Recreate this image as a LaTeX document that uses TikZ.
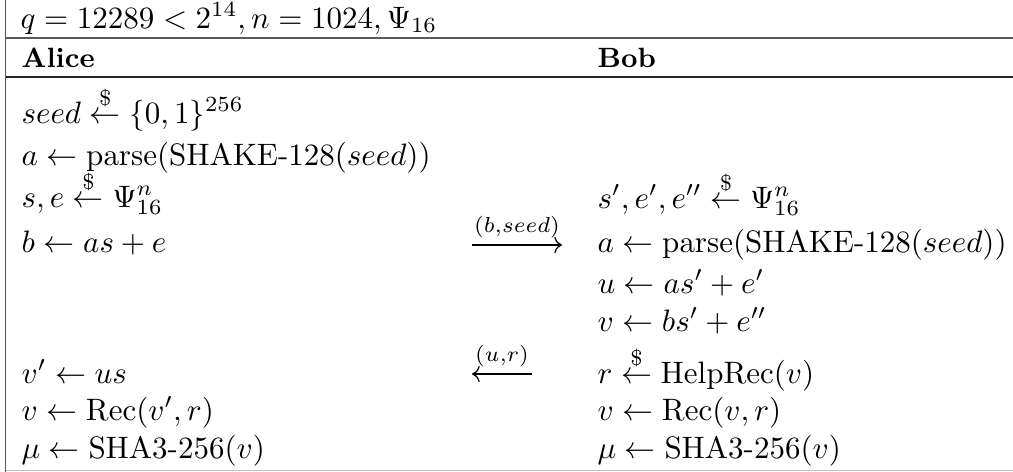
\documentclass[tikz,border=0pt]{standalone}
\usepackage{amsmath,amssymb}
\usepackage{tikz}
\usetikzlibrary{arrows.meta}

\begin{document}
\begin{tikzpicture}[
  x=0.3226pt, y=-0.3226pt,
  txt/.style={anchor=base west, inner sep=0pt},
  hdr/.style={txt, font=\small\bfseries},
  rule/.style={line width=0.5pt, draw=black!65},
  msg/.style={-{Computer Modern Rightarrow}, line width=0.4pt},
  lbl/.style={above=2pt, font=\scriptsize, inner sep=0pt}
]
  \useasboundingbox (0,0) rectangle (1013,471);

  % table rules
  \draw[rule] (5.5,-2) -- (5.5,473);
  \draw[rule] (5.5,38) -- (1015,38);
  \draw[rule, draw=black!85] (5.5,77) -- (1015,77);
  \draw[rule, draw=black!25] (5.5,470.5) -- (1015,470.5);

  % parameters and parties
  \node[txt] (par) at (20,28) {$q = 12289 < 2^{14}, n = 1024, \Psi_{16}$};
  \node[hdr] (alice) at (21,67) {Alice};
  \node[hdr] (bob) at (597,67) {Bob};

  % Alice
  \node[txt] (aseed) at (21,123) {$seed \stackrel{\$}{\leftarrow} \{0,1\}^{256}$};
  \node[txt] (agen) at (21,165) {$a \leftarrow \mathrm{parse}(\mathrm{SHAKE\text{-}128}(seed))$};
  \node[txt] (asmp) at (21,207) {$s, e \stackrel{\$}{\leftarrow} \Psi_{16}^{n}$};
  \node[txt] (ab) at (21,252) {$b \leftarrow as + e$};
  \node[txt] (avp) at (21,383) {$v' \leftarrow us$};
  \node[txt] (arec) at (21,420) {$v \leftarrow \mathrm{Rec}(v', r)$};
  \node[txt] (amu) at (21,458) {$\mu \leftarrow \mathrm{SHA3\text{-}256}(v)$};

  % Bob
  \node[txt] (bsmp) at (597,208) {$s', e', e'' \stackrel{\$}{\leftarrow} \Psi_{16}^{n}$};
  \node[txt] (bgen) at (597,252) {$a \leftarrow \mathrm{parse}(\mathrm{SHAKE\text{-}128}(seed))$};
  \node[txt] (bu) at (597,293) {$u \leftarrow as' + e'$};
  \node[txt] (bv) at (597,331) {$v \leftarrow bs' + e''$};
  \node[txt] (br) at (597,383) {$r \stackrel{\$}{\leftarrow} \mathrm{HelpRec}(v)$};
  \node[txt] (brec) at (597,420) {$v \leftarrow \mathrm{Rec}(v, r)$};
  \node[txt] (bmu) at (597,458) {$\mu \leftarrow \mathrm{SHA3\text{-}256}(v)$};

  % messages
  \coordinate (m1a) at (472,245);
  \coordinate (m1b) at (562,245);
  \coordinate (m2a) at (532,374);
  \coordinate (m2b) at (472,374);
  \draw[msg] (m1a) -- node[lbl] {$(b{,}seed)$} (m1b);
  \draw[msg] (m2a) -- node[lbl] {$(u{,}r)$} (m2b);
\end{tikzpicture}
\end{document}
